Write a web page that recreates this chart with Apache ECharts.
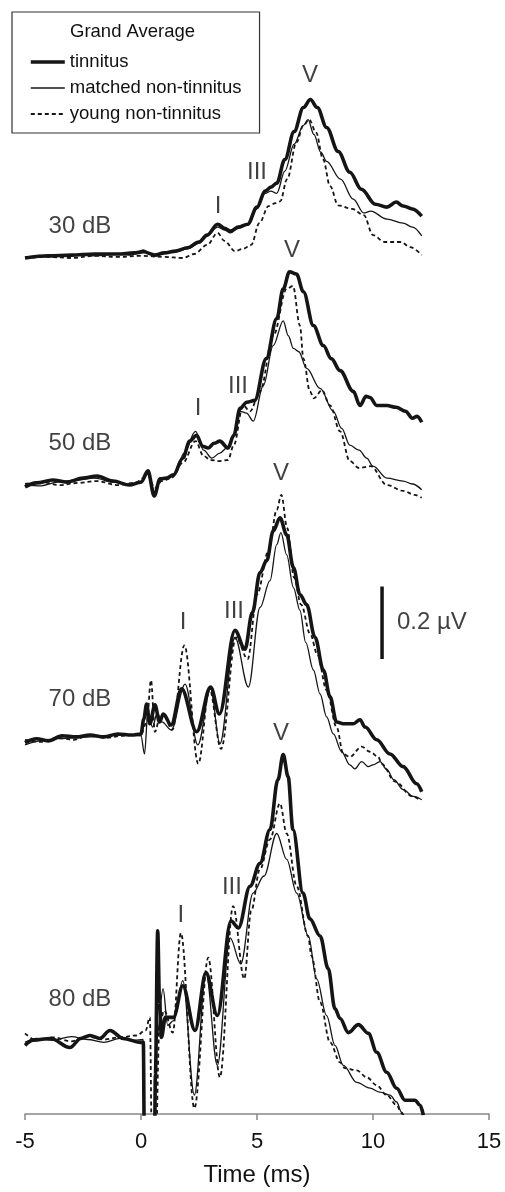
<!DOCTYPE html>
<html><head><meta charset="utf-8">
<script src="https://cdn.jsdelivr.net/npm/echarts@6/dist/echarts.min.js"></script>
<style>html,body{margin:0;padding:0;background:#fff}#c{width:505px;height:1192px}</style>
</head><body><div id="c"></div>
<script>
// Levels and vertical offsets (µV) of each trace group
const levels = ['30 dB', '50 dB', '70 dB', '80 dB'];
const offsets = [2.359, 1.734, 1.038, 0.208];
const xTicks = [-5, 0, 5, 10, 15];

// 30 dB  [time ms, amplitude µV]
const tinnitus30 = [[-5,-0.003],[-4,0.003],[-3,0.005],[-2,0.008],[-1,0.008],[-0.3,0.011],[0.1,0.014],[0.6,0.005],[1.0,0.011],[1.5,0.016],[2.0,0.025],[2.5,0.041],[2.85,0.060],[3.3,0.090],[3.6,0.079],[3.85,0.071],[4.2,0.082],[4.6,0.090],[5.0,0.137],[5.35,0.181],[5.6,0.192],[5.85,0.203],[6.2,0.268],[6.6,0.345],[7.0,0.411],[7.3,0.433],[7.6,0.411],[8.0,0.356],[8.5,0.290],[9.0,0.233],[9.5,0.186],[10.1,0.145],[10.6,0.137],[11.0,0.151],[11.3,0.140],[11.7,0.132],[12.1,0.112]];
const matched30 = [[-5,0],[-4,0],[-3,0.005],[-2,0.003],[-1,0.008],[-0.4,0.005],[0.1,0.019],[0.5,0.005],[1.0,0.011],[1.5,0.014],[2.0,0.022],[2.5,0.038],[2.85,0.058],[3.3,0.082],[3.6,0.074],[3.85,0.066],[4.2,0.079],[4.6,0.088],[5.0,0.132],[5.35,0.175],[5.6,0.181],[5.85,0.175],[6.2,0.236],[6.6,0.310],[7.0,0.362],[7.2,0.378],[7.45,0.337],[7.75,0.288],[8.0,0.263],[8.6,0.214],[9.15,0.159],[9.6,0.121],[9.9,0.126],[10.6,0.104],[11.3,0.093],[11.7,0.082],[12.1,0.058]];
const young30 = [[-5,-0.003],[-4,0],[-3,-0.003],[-2,0.003],[-1,0],[0,0.003],[1.0,0],[1.8,-0.003],[2.3,0.008],[2.85,0.033],[3.3,0.066],[3.6,0.044],[4.05,0.016],[4.4,0.022],[4.75,0.033],[5.1,0.093],[5.5,0.140],[5.8,0.148],[6.0,0.153],[6.3,0.214],[6.7,0.315],[7.0,0.362],[7.25,0.378],[7.55,0.342],[7.85,0.268],[8.15,0.195],[8.5,0.142],[9.1,0.132],[9.6,0.115],[10.0,0.060],[10.5,0.041],[11.2,0.041],[11.6,0.027],[12.1,0.005]];

// 50 dB
const tinnitus50 = [[-5,-0.008],[-4.5,0.003],[-3.8,0.011],[-3.2,0.005],[-2.5,0.016],[-1.9,0.022],[-1.2,0.008],[-0.5,-0.003],[0.0,0.005],[0.3,0.036],[0.57,-0.033],[0.82,0.014],[1.1,0.016],[1.4,0.025],[1.8,0.071],[2.1,0.118],[2.4,0.134],[2.65,0.104],[2.9,0.099],[3.15,0.112],[3.4,0.118],[3.75,0.099],[4.0,0.134],[4.27,0.208],[4.56,0.225],[4.9,0.230],[5.4,0.345],[5.85,0.455],[6.13,0.537],[6.4,0.584],[6.7,0.578],[7.0,0.529],[7.43,0.436],[7.86,0.381],[8.2,0.345],[8.58,0.312],[9.15,0.255],[9.44,0.216],[9.7,0.241],[9.87,0.238],[10.16,0.216],[10.6,0.216],[11.0,0.211],[11.4,0.200],[11.7,0.181],[11.9,0.186],[12.1,0.170]];
const matched50 = [[-5,-0.003],[-4.3,-0.005],[-3.6,0.005],[-2.8,0.011],[-2.0,0.016],[-1.2,0.005],[-0.4,0],[0.0,0.005],[0.3,0.027],[0.6,-0.022],[0.85,0.011],[1.2,0.019],[1.5,0.030],[1.85,0.085],[2.35,0.145],[2.7,0.093],[3.05,0.071],[3.4,0.085],[3.7,0.099],[4.0,0.132],[4.27,0.200],[4.55,0.195],[4.84,0.173],[5.27,0.271],[5.7,0.381],[6.13,0.449],[6.35,0.408],[6.57,0.373],[6.8,0.364],[7.14,0.318],[7.72,0.263],[8.29,0.200],[8.65,0.153],[9.0,0.107],[9.4,0.093],[9.73,0.071],[10.0,0.049],[10.6,0.016],[11.3,0.008],[11.7,0],[12.1,-0.016]];
const young50 = [[-5,0],[-4.3,0.005],[-3.5,-0.003],[-2.7,0.003],[-1.9,0.008],[-1.0,-0.003],[-0.3,0.003],[0.3,0.022],[0.6,-0.011],[0.9,0.008],[1.3,0.016],[1.8,0.058],[2.35,0.118],[2.7,0.077],[3.0,0.066],[3.4,0.063],[3.75,0.066],[4.0,0.107],[4.4,0.216],[4.7,0.200],[5.13,0.255],[5.7,0.408],[6.28,0.537],[6.55,0.545],[6.85,0.436],[7.0,0.345],[7.28,0.255],[7.45,0.236],[7.8,0.258],[8.15,0.216],[8.58,0.145],[9.0,0.063],[9.4,0.044],[9.9,0.049],[10.6,-0.003],[11.3,-0.019],[11.8,-0.030],[12.1,-0.038]];

// 70 dB
const tinnitus70 = [[-5,-0.016],[-4.5,-0.005],[-4.0,-0.011],[-3.4,0.003],[-2.8,0],[-2.2,0.005],[-1.6,0],[-1.0,0.008],[-0.4,0.005],[0.0,0.008],[0.12,0.049],[0.24,0.090],[0.38,0.036],[0.6,0.088],[0.8,0.041],[0.96,0.063],[1.3,0.033],[1.75,0.132],[2.4,0.014],[3.0,0.137],[3.38,0.063],[4.05,0.293],[4.48,0.241],[4.8,0.342],[5.13,0.452],[5.42,0.485],[5.7,0.567],[5.99,0.603],[6.28,0.556],[6.57,0.466],[6.85,0.392],[7.14,0.364],[7.5,0.274],[7.86,0.184],[8.15,0.110],[8.43,0.041],[8.72,0.036],[9.15,0.036],[9.44,0.047],[9.66,0.027],[10.16,-0.008],[10.73,-0.047],[11.3,-0.082],[11.88,-0.129],[12.1,-0.151]];
const matched70 = [[-5,-0.022],[-4.3,-0.011],[-3.6,-0.005],[-2.9,-0.003],[-2.2,0],[-1.5,0.003],[-0.8,0.005],[0.0,0.003],[0.15,-0.047],[0.3,0.068],[0.5,0.027],[0.7,0.066],[0.9,0.041],[1.3,0.019],[1.9,0.145],[2.45,-0.022],[3.0,0.132],[3.4,-0.019],[4.05,0.274],[4.63,0.137],[5.13,0.356],[5.56,0.430],[5.85,0.529],[6.03,0.562],[6.28,0.501],[6.57,0.411],[6.85,0.348],[7.1,0.260],[7.43,0.184],[7.72,0.118],[8.0,0.055],[8.29,0.008],[8.65,-0.041],[9.0,-0.077],[9.22,-0.088],[9.51,-0.068],[9.8,-0.082],[10.0,-0.077],[10.3,-0.068],[10.6,-0.090],[10.9,-0.118],[11.3,-0.145],[11.74,-0.164],[12.1,-0.173]];
const young70 = [[-5,-0.008],[-4.3,-0.014],[-3.6,-0.003],[-2.9,-0.008],[-2.2,0.005],[-1.5,-0.003],[-0.8,0.003],[0.0,0.008],[0.25,0.041],[0.43,0.156],[0.6,0.014],[0.8,0.049],[1.0,0.055],[1.35,0.019],[1.87,0.252],[2.47,-0.074],[2.95,0.132],[3.45,-0.033],[4.1,0.274],[4.6,0.214],[5.0,0.392],[5.5,0.512],[5.85,0.625],[6.05,0.666],[6.3,0.575],[6.6,0.438],[6.9,0.364],[7.3,0.282],[7.6,0.227],[8.0,0.129],[8.43,0.027],[8.72,-0.047],[9.0,-0.055],[9.51,-0.027],[9.87,-0.041],[10.23,-0.055],[10.37,-0.074],[10.95,-0.123],[11.7,-0.164],[12.0,-0.173]];

// 80 dB
const tinnitus80 = [[-5,-0.019],[-4.65,-0.005],[-3.9,0],[-3.06,-0.025],[-2.6,0],[-2.2,0.008],[-1.77,0],[-1.34,0.022],[-0.77,0],[-0.04,-0.011],[0.1,-0.011],[0.15,-0.33],[0.58,-0.33],[0.62,-0.1],[0.72,0.296],[0.8,0.1],[0.88,0.003],[1.05,0.058],[1.4,0.058],[1.8,0.145],[2.33,0.022],[2.8,0.181],[3.29,0.063],[3.88,0.323],[4.2,0.304],[4.7,0.419],[5.13,0.482],[5.56,0.575],[5.9,0.712],[6.13,0.781],[6.34,0.721],[6.55,0.575],[6.98,0.400],[7.28,0.329],[7.72,0.282],[8.07,0.192],[8.36,0.082],[8.58,0.055],[8.94,0.016],[9.37,0.038],[9.8,0.014],[10.16,-0.038],[10.59,-0.093],[11.02,-0.137],[11.38,-0.170],[11.81,-0.170],[12.03,-0.184],[12.17,-0.211]];
const matched80 = [[-5,-0.011],[-4.5,0],[-3.8,-0.005],[-3.0,0.005],[-2.3,-0.003],[-1.6,-0.011],[-0.9,0],[-0.3,-0.005],[0.1,-0.003],[0.15,-0.33],[0.55,-0.33],[0.7,0.008],[0.95,0.137],[1.15,0.036],[1.4,0.049],[1.8,0.159],[2.3,-0.156],[2.8,0.181],[3.29,-0.074],[3.84,0.277],[4.3,0.205],[4.83,0.400],[5.3,0.447],[5.85,0.564],[6.28,0.493],[6.71,0.400],[7.21,0.282],[7.57,0.164],[8.0,0.063],[8.36,-0.019],[8.72,-0.074],[9.3,-0.121],[9.87,-0.137],[10.3,-0.148],[10.73,-0.156],[11.02,-0.175],[11.23,-0.203],[11.4,-0.225]];
const young80 = [[-5,0.014],[-4.5,-0.005],[-3.8,0.003],[-3.0,-0.008],[-2.3,0.005],[-1.6,-0.003],[-0.9,0.003],[-0.2,0.008],[0.2,0.022],[0.38,0.058],[0.48,-0.33],[0.62,-0.33],[0.8,0.036],[1.0,0.077],[1.37,0.016],[1.72,0.290],[2.3,-0.192],[2.9,0.222],[3.4,-0.107],[3.97,0.364],[4.45,0.164],[4.75,0.351],[5.13,0.466],[5.56,0.548],[5.99,0.647],[6.28,0.564],[6.71,0.419],[7.2,0.282],[7.35,0.227],[7.72,0.099],[8.15,-0.011],[8.58,-0.066],[8.79,-0.082],[9.3,-0.088],[9.73,-0.107],[10.16,-0.129],[10.59,-0.156],[11.02,-0.184],[11.23,-0.205],[11.35,-0.225]];

// Annotations [time, absolute µV position, text]
const annotations = [
  [-2.63,2.444,'30 dB'],[7.28,2.858,'V'],[5.0,2.592,'III'],[3.32,2.499,'I'],
  [-2.63,1.847,'50 dB'],[6.51,2.378,'V'],[4.18,2.003,'III'],[2.46,1.942,'I'],
  [-2.63,1.140,'70 dB'],[6.03,1.762,'V'],[4.01,1.384,'III'],[1.81,1.353,'I'],
  [-2.63,0.315,'80 dB'],[6.03,1.047,'V'],[3.92,0.625,'III'],[1.72,0.548,'I']
];
// Scale bar: 0.2 µV
const scaleBar = [[10.39,1.252],[10.39,1.452]];
const scaleLabel = [11.03,1.353,'0.2 µV'];

const groups = [
  {name:'tinnitus', data:[tinnitus30,tinnitus50,tinnitus70,tinnitus80], style:{width:3.6,type:'solid'}},
  {name:'matched non-tinnitus', data:[matched30,matched50,matched70,matched80], style:{width:1.3,type:'solid'}},
  {name:'young non-tinnitus', data:[young30,young50,young70,young80], style:{width:1.8,type:[4,3]}}
];

const FONT = '"Liberation Sans", Arial, Helvetica, sans-serif';
const INK = '#151515';
const TXT = '#111';
const series = [];
groups.forEach(g => {
  g.data.forEach((arr, i) => {
    series.push({
      name: g.name, type: 'line', symbol: 'none', smooth: 0.35, smoothMonotone: 'x',
      clip: true, silent: true,
      lineStyle: {color: INK, width: g.style.width, type: g.style.type},
      itemStyle: {color: INK},
      data: arr.map(p => [p[0], p[1] + offsets[i]]),
      z: 3
    });
  });
});
series.push({
  name: 'scale', type: 'line', symbol: 'none', silent: true,
  lineStyle: {color: INK, width: 3.5}, data: scaleBar, z: 3
});
series.push({
  name: 'labels', type: 'scatter', symbolSize: 1, silent: true,
  itemStyle: {color: 'transparent'},
  label: {show: true, position: 'inside', formatter: p => p.data.value ? p.data.value[2] : p.data[2],
          fontSize: 24, color: TXT, fontFamily: FONT},
  data: annotations.map(a => a).concat([{value: scaleLabel, label: {align: 'left'}}]),
  z: 5
});

const chart = echarts.init(document.getElementById('c'), null, {renderer: 'canvas'});
chart.setOption({
  animation: false,
  backgroundColor: '#fff',
  grid: {left: 25, right: 16, top: 24, bottom: 73},
  xAxis: {
    type: 'value', min: xTicks[0], max: xTicks[xTicks.length - 1], interval: 5,
    axisLine: {lineStyle: {color: '#888', width: 1.5}},
    axisTick: {length: 6, lineStyle: {color: '#888', width: 1.5}},
    axisLabel: {fontSize: 22, color: TXT, margin: 17, fontFamily: FONT},
    splitLine: {show: false},
    name: 'Time (ms)', nameLocation: 'middle', nameGap: 49,
    nameTextStyle: {fontSize: 24, color: TXT, fontFamily: FONT}
  },
  yAxis: {type: 'value', min: 0, max: 3, show: false},
  legend: {
    left: 12, top: 12, orient: 'vertical',
    data: groups.map(g => ({name: g.name, lineStyle: {width: g.style.width, type: g.style.type, color: INK}})),
    padding: [40, 18, 9, 17], itemGap: 6, itemWidth: 34, itemHeight: 4,
    borderColor: '#333', borderWidth: 1.2, backgroundColor: '#fff',
    selectedMode: false,
    itemStyle: {opacity: 0, color: 'transparent', borderWidth: 0},
    textStyle: {fontSize: 18.5, color: TXT, fontFamily: FONT, lineHeight: 20}
  },
  graphic: [{
    type: 'text', z: 100,
    style: {text: 'Grand Average', x: 70, y: 32, fontSize: 18.5, fontFamily: FONT, fill: TXT, verticalAlign: 'middle'}
  }],
  series: series
});
</script></body></html>
